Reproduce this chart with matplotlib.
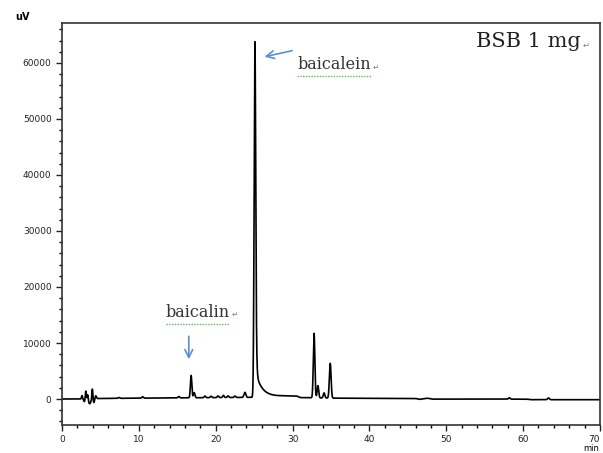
import numpy as np
import matplotlib
matplotlib.use("Agg")
import matplotlib.pyplot as plt
from matplotlib.ticker import MultipleLocator

# peaks: retention time (min), height (uV), width (min)
peak_t = [2.6, 2.9, 3.1, 3.35, 3.6, 3.95, 4.15, 4.4, 7.4, 10.5, 15.2,
          16.8, 17.2, 18.6, 19.4, 20.3, 21.0, 21.6, 22.5, 23.8,
          25.1, 25.25,
          32.8, 33.3, 34.1, 34.9, 58.2, 63.3]
peak_h = [600, -500, 1400, 900, -900, 1800, -700, 500, 150, 250, 250,
          4000, 900, 300, 250, 300, 400, 300, 250, 900,
          61500, 3000,
          11500, 2200, 900, 6200, 250, 300]
peak_w = [0.06, 0.08, 0.06, 0.06, 0.15, 0.06, 0.08, 0.08, 0.1, 0.1, 0.1,
          0.09, 0.1, 0.1, 0.1, 0.1, 0.1, 0.1, 0.1, 0.12,
          0.1, 0.12,
          0.1, 0.1, 0.1, 0.11, 0.1, 0.12]

# tailing of the baicalein peak: start (min), height (uV), decay (min)
tail_t0 = 25.2
tail_h = 4500
tail_tau = 0.8

# drifting baseline anchor points
base_t = [0, 2, 5, 10, 20, 24.6, 26, 29, 30.5, 31, 36, 46, 46.5, 47.5, 48.2, 60.5, 61, 70]
base_v = [0, 0, 100, 150, 250, 300, 400, 550, 550, 250, 150, 100, -60, 150, -20, -20, -120, -120]

x_ticks = [0, 10, 20, 30, 40, 50, 60, 70]
y_ticks = [0, 10000, 20000, 30000, 40000, 50000, 60000]

t = np.linspace(0, 70, 14001)
signal = np.interp(t, base_t, base_v)
for tc, h, w in zip(peak_t, peak_h, peak_w):
    signal = signal + h * np.exp(-0.5 * ((t - tc) / w) ** 2)
rise = 1.0 / (1.0 + np.exp(-(t - tail_t0) / 0.05))
signal = signal + tail_h * np.exp(-np.clip(t - tail_t0, 0, None) / tail_tau) * rise

fig = plt.figure(figsize=(6.03, 4.53), dpi=100)
ax = fig.add_axes([0.1028, 0.0618, 0.8922, 0.887])
ax.plot(t, signal, color="black", lw=1.2)

ax.set_xlim(0, 70)
ax.set_ylim(-4640, 67100)
ax.set_xticks(x_ticks)
ax.set_yticks(y_ticks)
ax.xaxis.set_minor_locator(MultipleLocator(2))
ax.yaxis.set_minor_locator(MultipleLocator(2000))
ax.tick_params(which="major", length=4, width=1, labelsize=6.5, colors="#222222")
ax.tick_params(which="minor", length=2.5, width=1)
ax.get_xticklabels()[-1].set_ha("right")
for s in ax.spines.values():
    s.set_linewidth(1.2)
    s.set_color("#333333")

fig.text(0.025, 0.962, "uV", fontsize=7, fontweight="bold", ha="left", va="center")
fig.text(0.993, 0.0, "min", fontsize=6, ha="right", va="bottom")

serif = ["DejaVu Serif"]
ax.text(0.965, 0.955, "BSB 1 mg", transform=ax.transAxes, fontsize=15,
        family=serif, ha="right", va="center", color="#222222")
ax.text(0.437, 0.896, "baicalein", transform=ax.transAxes, fontsize=11.5,
        family=serif, ha="left", va="center", color="#333333")
ax.text(0.193, 0.281, "baicalin", transform=ax.transAxes, fontsize=11.5,
        family=serif, ha="left", va="center", color="#333333")
ax.text(0.968, 0.945, "\u21b5", transform=ax.transAxes, fontsize=6, color="gray", va="center")
ax.text(0.578, 0.89, "\u21b5", transform=ax.transAxes, fontsize=5.5, color="gray", va="center")
ax.text(0.315, 0.275, "\u21b5", transform=ax.transAxes, fontsize=5.5, color="gray", va="center")

# spell-check style underline
ax.plot([0.437, 0.575], [0.868, 0.868], transform=ax.transAxes, color="#5cb85c",
        lw=1, ls=(0, (1, 1)))
ax.plot([0.193, 0.312], [0.252, 0.252], transform=ax.transAxes, color="#5cb85c",
        lw=1, ls=(0, (1, 1)))

arrow_kw = dict(arrowstyle="->", color="#5b8fd0", lw=1.2, mutation_scale=14)
ax.annotate("", xy=(26.0, 61000), xytext=(30.3, 62300), arrowprops=arrow_kw)
ax.annotate("", xy=(16.5, 6600), xytext=(16.5, 11700), arrowprops=arrow_kw)

fig.savefig("out.png", dpi=100)
